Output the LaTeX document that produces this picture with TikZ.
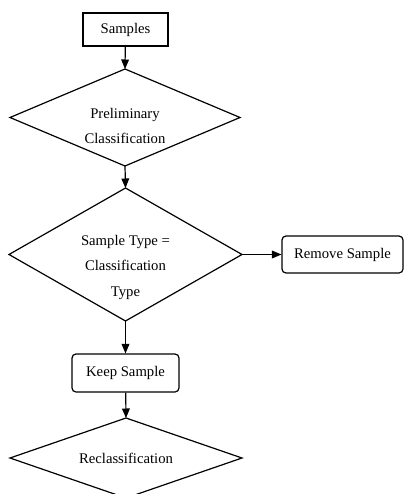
\documentclass[tikz,border=0pt]{standalone}
\usepackage{fontspec}
\setmainfont{Liberation Serif}
\usetikzlibrary{arrows,shapes.geometric}

\tikzset{
	flow/.style={line width=1.2pt,-triangle 45},
	plainbox/.style={draw,line width=1.2pt,inner sep=0pt},
	roundbox/.style={plainbox,rounded corners=4pt},
	decision/.style={draw,diamond,line width=1.2pt,inner sep=0pt,outer sep=0pt},
	boxtext/.style={align=center,font=\fontsize{14.7}{25.5}\selectfont}
}

\begin{document}
\begin{tikzpicture}[x=1pt,y=-1pt]
			\useasboundingbox (0,0) rectangle (405,494);
			\node[plainbox,minimum width=85pt,minimum height=33pt,boxtext] (samples) at (125.5,29.5) {Samples};
			\node[decision,minimum width=230pt,minimum height=97pt] (prelim) at (125,117.5) {};
			\node[boxtext] (prelimtext) at (125,126) {Preliminary\\Classification};
			\node[decision,minimum width=233pt,minimum height=133pt] (check) at (125.5,254.5) {};
			\node[boxtext] (checktext) at (125.5,267) {Sample Type =\\Classification\\Type};
			\node[roundbox,minimum width=121pt,minimum height=37pt,boxtext] (remove) at (342.5,254.5) {Remove Sample};
			\node[roundbox,minimum width=107pt,minimum height=38pt,boxtext] (keep) at (125.5,373) {Keep Sample};
			\node[decision,minimum width=232pt,minimum height=80pt] (reclass) at (126,458) {};
			\node[boxtext] (reclasstext) at (126,458) {Reclassification};
			\draw[flow] (samples) -- (prelim.north);
			\draw[flow] (prelim.south) -- (check.north);
			\draw[flow] (check.east) -- (remove);
			\draw[flow] (check.south) -- (keep);
			\draw[flow] (keep) -- (reclass.north);
		\end{tikzpicture}
\end{document}
